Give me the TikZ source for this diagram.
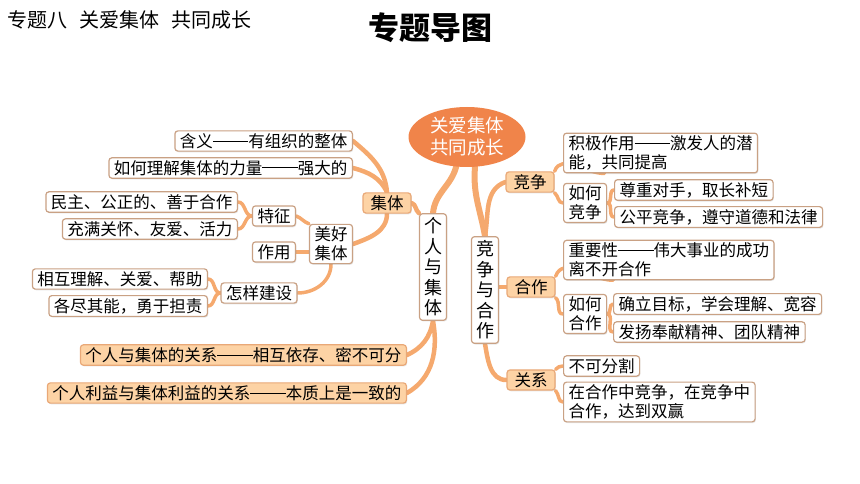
\documentclass[tikz,border=0pt]{standalone}
\usepackage{fontspec}
\newfontfamily\cjk{Noto Sans CJK SC}
\usetikzlibrary{positioning, shapes.geometric, backgrounds, shadows}
\definecolor{branchc}{HTML}{F5A96E}
\definecolor{rootc}{HTML}{F0844A}
\definecolor{keyc}{HTML}{FDD3A5}
\definecolor{keyedge}{HTML}{E9A877}
\definecolor{edgec}{HTML}{C9A184}
\newcommand\ldash{\rule[0.36em]{2.15em}{0.8pt}} % long dash, two characters wide
\tikzset{
        leaf/.style={draw=edgec, line width=1.2pt, rounded corners=3pt, fill=white,
          inner xsep=5pt, inner ysep=2.5pt, align=left,
          font=\cjk\fontsize{16.5}{19}\selectfont,
          drop shadow={opacity=0.2, shadow xshift=0.8pt, shadow yshift=-1.2pt}}, % every text box
        key/.style={leaf, fill=keyc, draw=keyedge}, % orange headings
        vbox/.style={leaf, align=center, inner xsep=4.5pt, inner ysep=4pt,
          font=\cjk\fontsize{18}{20.5}\selectfont}, % upright column of text
        root/.style={ellipse, fill=rootc, text=white, minimum width=117pt,
          minimum height=60pt, inner sep=0pt, align=center,
          font=\cjk\fontsize{18.5}{22}\selectfont},
        trunk/.style={draw=branchc, line width=6pt, line cap=round},
        branch/.style={draw=branchc, line width=4.5pt, line cap=round},
        twig/.style={draw=branchc, line width=3.5pt, line cap=round},
    }
\begin{document}
\begin{tikzpicture}[x=1pt, y=-1pt]
    \useasboundingbox (0,0) rectangle (860,484);
    % titles
    \node[anchor=west, inner sep=0pt, font=\cjk\fontsize{20}{22}\selectfont] (topic) at (7,20)
      {专题八\hspace{12pt}关爱集体\hspace{12pt}共同成长};
    \node[inner sep=0pt, font=\cjk\bfseries\fontsize{31}{33}\selectfont] (title) at (430,28) {专题导图};

    % centre
    \node[root] (root) at (467,137) {关爱集体\\共同成长};
    \node[vbox] (geren) at (433,267) {个\\人\\与\\集\\体};
    \node[vbox] (jzhz) at (485,290) {竞\\争\\与\\合\\作};

    % left half
    \node[key, minimum width=48pt] (jiti) at (387,203) {集体};
    \node[leaf, anchor=east] (hanyi) at (353,141) {含义\ldash 有组织的整体};
    \node[leaf, anchor=east] (liliang) at (353,168) {如何理解集体的力量\ldash 强大的};
    \node[leaf, align=center] (meihao) at (331,244) {美好\\集体};
    \node[leaf] (tezheng) at (274,216) {特征};
    \node[leaf] (zuoyong) at (274,252) {作用};
    \node[leaf] (jianshe) at (259,293) {怎样建设};
    \node[leaf, anchor=east] (minzhu) at (238,202) {民主、公正的、善于合作};
    \node[leaf, anchor=east] (chongman) at (238,229) {充满关怀、友爱、活力};
    \node[leaf, anchor=east] (huxiang) at (208,279) {相互理解、关爱、帮助};
    \node[leaf, anchor=east] (gejin) at (208,306) {各尽其能，勇于担责};
    \node[key, anchor=east] (guanxi1) at (407,355) {个人与集体的关系\ldash 相互依存、密不可分};
    \node[key, anchor=east] (liyi) at (407,393) {个人利益与集体利益的关系\ldash 本质上是一致的};

    % right half
    \node[key, minimum width=48pt] (jingzheng) at (530,182) {竞争};
    \node[leaf, anchor=west] (jiji) at (563,153) {积极作用\ldash 激发人的潜\\能，共同提高};
    \node[leaf, anchor=west] (ruhejz) at (563,203) {如何\\竞争};
    \node[leaf, anchor=west] (zunzhong) at (614,190) {尊重对手，取长补短};
    \node[leaf, anchor=west] (gongping) at (614,217) {公平竞争，遵守道德和法律};
    \node[key, minimum width=48pt] (hezuo) at (531,287) {合作};
    \node[leaf, anchor=west] (zhongyao) at (563,260) {重要性\ldash 伟大事业的成功\\离不开合作};
    \node[leaf, anchor=west] (ruhehz) at (563,314) {如何\\合作};
    \node[leaf, anchor=west] (queli) at (613,304) {确立目标，学会理解、宽容};
    \node[leaf, anchor=west] (fayang) at (613,332) {发扬奉献精神、团队精神};
    \node[key, minimum width=48pt] (guanxi) at (531,380) {关系};
    \node[leaf, anchor=west] (bukefen) at (563,366) {不可分割};
    \node[leaf, anchor=west] (zaihezuo) at (563,402) {在合作中竞争，在竞争中\\合作，达到双赢};

    % branches
    \begin{scope}[on background layer]
      \draw[trunk] (root.250) to[out=-105, in=85] (geren.north);
      \draw[trunk] (root.285) to[out=-95, in=100] (jzhz.north);
      \draw[branch] (geren.north west) to[out=140, in=-20] (jiti.east);
      \draw[branch] (jiti.north) to[out=95, in=-40] (hanyi.east);
      \draw[branch] (jiti.north) to[out=115, in=-15] (liliang.east);
      \draw[branch] (jiti.south) to[out=-90, in=20] (meihao.east);
      \draw[twig] (meihao.north west) to[out=160, in=-20] (tezheng.east);
      \draw[twig] (zuoyong.east) -- (zuoyong.east -| meihao.west);
      \draw[twig] (meihao.south) to[out=-90, in=0] (jianshe.east);
      \draw[twig] (tezheng.west) to[out=180, in=0] (minzhu.east);
      \draw[twig] (tezheng.west) to[out=180, in=0] (chongman.east);
      \draw[twig] (jianshe.west) to[out=180, in=0] (huxiang.east);
      \draw[twig] (jianshe.west) to[out=180, in=0] (gejin.east);
      \draw[branch] (geren.south) to[out=-100, in=25] (guanxi1.east);
      \draw[branch] (geren.south) to[out=-80, in=30] (liyi.east);
      \draw[branch] (jzhz.north) to[out=80, in=200] (jingzheng.west);
      \draw[branch] (hezuo.west -| jzhz.east) -- (hezuo.west);
      \draw[branch] (jzhz.south) to[out=-80, in=180] (guanxi.west);
      \draw[twig] (jingzheng.north east) to[out=70, in=180] (jiji.200);
      \draw[twig] (jingzheng.south east) to[out=-40, in=180] (ruhejz.west);
      \draw[twig] (ruhejz.east) to[out=0, in=180] (zunzhong.west);
      \draw[twig] (ruhejz.east) to[out=0, in=180] (gongping.west);
      \draw[twig] (hezuo.north east) to[out=70, in=180] (zhongyao.200);
      \draw[twig] (hezuo.south east) to[out=-40, in=180] (ruhehz.west);
      \draw[twig] (ruhehz.east) to[out=0, in=180] (queli.west);
      \draw[twig] (ruhehz.east) to[out=0, in=180] (fayang.west);
      \draw[twig] (guanxi.north east) to[out=45, in=180] (bukefen.west);
      \draw[twig] (guanxi.south east) to[out=-45, in=180] (zaihezuo.west);
    \end{scope}
\end{tikzpicture}
\end{document}
